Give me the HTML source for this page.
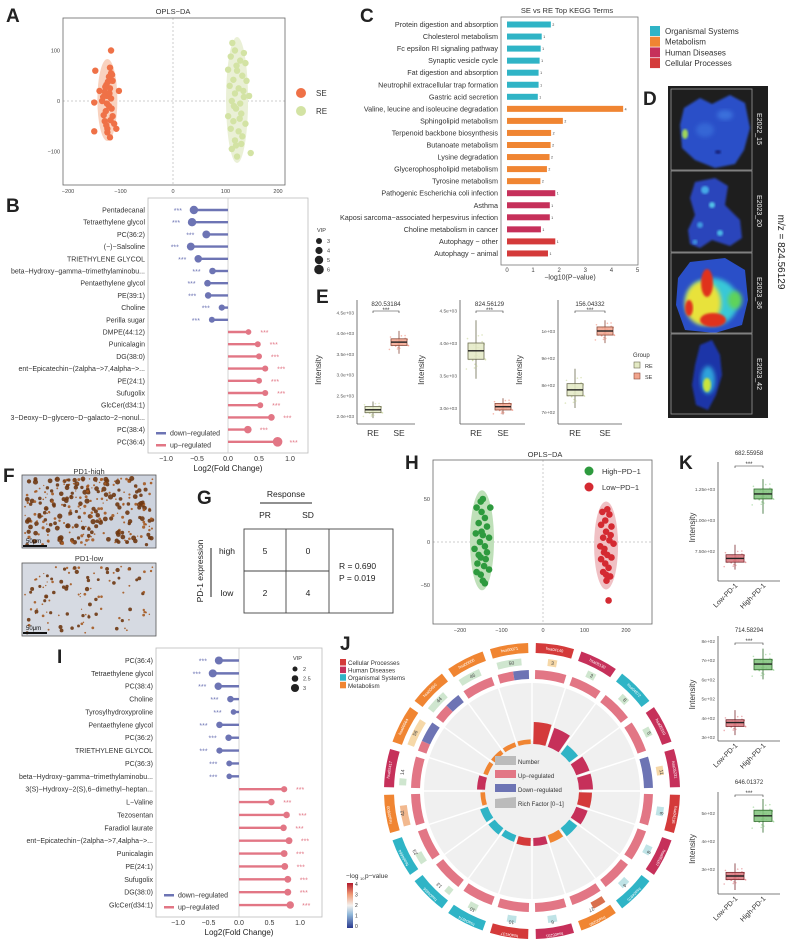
<!DOCTYPE html>
<html><head><meta charset="utf-8">
<style>
html,body{margin:0;padding:0;background:#fff;}
svg{display:block;font-family:"Liberation Sans",Arial,sans-serif;}
</style></head>
<body>
<svg id="fig" xmlns="http://www.w3.org/2000/svg" width="793" height="943" viewBox="0 0 793 943">
<defs>
<filter id="blur2" x="-20%" y="-20%" width="140%" height="140%"><feGaussianBlur stdDeviation="2.2"/></filter>
<filter id="blur1"><feGaussianBlur stdDeviation="1"/></filter>
<clipPath id="cd1"><rect x="671" y="89" width="81" height="81"/></clipPath>
<clipPath id="cd2"><rect x="671" y="171" width="81" height="81"/></clipPath>
<clipPath id="cd3"><rect x="671" y="253" width="81" height="80"/></clipPath>
<clipPath id="cd4"><rect x="671" y="334" width="81" height="80"/></clipPath>
<linearGradient id="cbar" x1="0" y1="1" x2="0" y2="0">
<stop offset="0" stop-color="#2b3a8f"/><stop offset="0.3" stop-color="#8fb7d9"/><stop offset="0.5" stop-color="#f4f1ee"/><stop offset="0.75" stop-color="#ef9a76"/><stop offset="1" stop-color="#b2182b"/>
</linearGradient>
</defs>
<g font-weight="bold" font-size="19" fill="#222">
<text x="6" y="22">A</text>
<text x="6" y="212">B</text>
<text x="360" y="22">C</text>
<text x="643" y="105">D</text>
<text x="316" y="303">E</text>
<text x="3" y="482">F</text>
<text x="197" y="504">G</text>
<text x="405" y="469">H</text>
<text x="57" y="663">I</text>
<text x="340" y="650">J</text>
<text x="679" y="469">K</text>
</g>
<text x="173" y="14" font-size="7.5" text-anchor="middle" fill="#333">OPLS−DA</text>
<text x="567" y="13" font-size="7.5" text-anchor="middle" fill="#333">SE vs RE Top KEGG Terms</text>
<text x="545" y="457" font-size="7.5" text-anchor="middle" fill="#333">OPLS−DA</text>

<!-- Panel D -->
<g>
<rect x="668" y="86" width="100" height="332" fill="#1e1e1e"/>
<g clip-path="url(#cd1)">
<path d="M684,108 L700,98 L712,104 L730,95 L745,103 L750,128 L744,150 L735,164 L715,168 L695,160 L682,148 L680,125 Z" fill="#2a4fc8" filter="url(#blur1)"/>
<ellipse cx="685" cy="134" rx="3" ry="5" fill="#9fd65a" filter="url(#blur1)"/>
<ellipse cx="725" cy="115" rx="8" ry="5" fill="#3b6fdc" filter="url(#blur2)"/>
<ellipse cx="705" cy="130" rx="9" ry="7" fill="#3566d5" filter="url(#blur2)"/>
<ellipse cx="718" cy="152" rx="3" ry="2" fill="#14247a" filter="url(#blur1)"/>
</g>
<g clip-path="url(#cd2)">
<path d="M695,182 L715,178 L728,186 L725,205 L740,220 L742,238 L730,246 L712,240 L700,248 L690,244 L688,230 L695,215 L690,198 Z" fill="#2a44bb" filter="url(#blur1)"/>
<circle cx="705" cy="190" r="4" fill="#45a8e6" filter="url(#blur1)"/>
<circle cx="712" cy="205" r="3" fill="#52c3e8" filter="url(#blur1)"/>
<circle cx="700" cy="225" r="3" fill="#3f9ae0" filter="url(#blur1)"/>
<circle cx="720" cy="233" r="3" fill="#4bb8e6" filter="url(#blur1)"/>
<circle cx="695" cy="242" r="2.5" fill="#3d8fdc" filter="url(#blur1)"/>
</g>
<g clip-path="url(#cd3)">
<path d="M690,262 L725,258 L745,270 L748,300 L742,325 L715,333 L685,330 L676,305 L678,278 Z" fill="#2a4fc8"/>
<ellipse cx="712" cy="302" rx="26" ry="24" fill="#37c8d8" filter="url(#blur2)"/>
<ellipse cx="703" cy="303" rx="18" ry="22" fill="#e8e23a" filter="url(#blur2)"/>
<ellipse cx="707" cy="283" rx="6" ry="14" fill="#e0301e" filter="url(#blur1)"/>
<ellipse cx="713" cy="320" rx="13" ry="7" fill="#e0301e" filter="url(#blur1)"/>
<ellipse cx="689" cy="308" rx="4" ry="8" fill="#e0301e" filter="url(#blur1)"/>
<ellipse cx="735" cy="300" rx="7" ry="9" fill="#5fd35a" filter="url(#blur2)"/>
</g>
<g clip-path="url(#cd4)">
<path d="M700,345 L712,340 L720,355 L722,375 L716,395 L708,410 L696,405 L692,385 L695,365 Z" fill="#1f35a8" filter="url(#blur1)"/>
<ellipse cx="708" cy="380" rx="7" ry="14" fill="#2fa3dc" filter="url(#blur2)"/>
<ellipse cx="707" cy="385" rx="4" ry="7" fill="#c8e43c" filter="url(#blur1)"/>
</g>
<g fill="none" stroke="#999" stroke-width="0.8">
<rect x="671" y="89" width="81" height="81"/><rect x="671" y="171" width="81" height="81"/><rect x="671" y="253" width="81" height="80"/><rect x="671" y="334" width="81" height="80"/>
</g>
<g fill="#eee" font-size="7" text-anchor="middle">
<text transform="translate(757,129) rotate(90)">E2022_15</text>
<text transform="translate(757,211) rotate(90)">E2023_20</text>
<text transform="translate(757,293) rotate(90)">E2023_36</text>
<text transform="translate(757,374) rotate(90)">E2023_42</text>
</g>
<text transform="translate(778,252) rotate(90)" font-size="10" text-anchor="middle" fill="#222">m/z = 824.56129</text>
</g>

<!-- Panel F -->
<g>
<text x="89" y="474" font-size="7.5" text-anchor="middle" fill="#333">PD1-high</text>
<rect x="22" y="475" width="134" height="73" fill="#cdd3de" stroke="#555" stroke-width="0.8"/>
<g id="fhigh"></g>
<text x="89" y="561" font-size="7.5" text-anchor="middle" fill="#333">PD1-low</text>
<rect x="22" y="563" width="134" height="73" fill="#d6dae2" stroke="#555" stroke-width="0.8"/>
<g id="flow"></g>
<text x="26" y="543" font-size="6" fill="#111">50μm</text>
<rect x="23" y="545" width="24" height="2" fill="#111"/>
<text x="26" y="630" font-size="6" fill="#111">50μm</text>
<rect x="23" y="632" width="24" height="2" fill="#111"/>
</g>

<!-- Panel G -->
<g fill="#222">
<text x="286" y="497" font-size="8.5" text-anchor="middle">Response</text>
<line x1="260" y1="503" x2="312" y2="503" stroke="#222" stroke-width="1"/>
<text x="265" y="518" font-size="8.5" text-anchor="middle">PR</text>
<text x="308" y="518" font-size="8.5" text-anchor="middle">SD</text>
<text transform="translate(203,571) rotate(-90)" font-size="8.5" text-anchor="middle">PD-1 expression</text>
<line x1="211" y1="548" x2="211" y2="597" stroke="#222" stroke-width="1"/>
<text x="227" y="554" font-size="8.5" text-anchor="middle">high</text>
<text x="227" y="596" font-size="8.5" text-anchor="middle">low</text>
<rect x="244" y="529" width="149" height="84" fill="none" stroke="#444" stroke-width="0.9"/>
<line x1="244" y1="571" x2="329" y2="571" stroke="#444" stroke-width="0.9"/>
<line x1="286" y1="529" x2="286" y2="613" stroke="#444" stroke-width="0.9"/>
<line x1="329" y1="529" x2="329" y2="613" stroke="#444" stroke-width="0.9"/>
<text x="265" y="554" font-size="8.5" text-anchor="middle">5</text>
<text x="308" y="554" font-size="8.5" text-anchor="middle">0</text>
<text x="265" y="596" font-size="8.5" text-anchor="middle">2</text>
<text x="308" y="596" font-size="8.5" text-anchor="middle">4</text>
<text x="339" y="569" font-size="8.5">R = 0.690</text>
<text x="339" y="581" font-size="8.5">P = 0.019</text>
</g>
</svg>
<script>
// ---------- DATA ----------
const aSEx=[-118,-148,-103,-150,-150,-120,-125,-130,-115,-128,-122,-135,-118,-125,-130,-120,-127,-115,-122,-118,-120,-125,-108,-140,-112,-132,-117,-126,-121,-129,-119,-124,-133,-116,-127];
const aSEy=[100,60,20,-3,-60,-72,-55,-40,-30,-20,-10,0,5,10,18,25,32,40,48,55,66,-62,-55,20,-45,-28,-15,-5,15,28,-38,38,8,52,-48];
const aREx=[113,118,135,110,128,138,105,122,132,115,140,108,125,118,135,145,112,128,120,105,130,115,138,110,125,132,118,130,112,122,148,120,127,116,134,121];
const aREy=[115,100,95,88,80,75,62,60,50,42,40,30,25,15,8,10,0,-5,-15,-30,-25,-40,-45,-55,-60,-70,-78,-85,-95,-110,-103,-88,-35,-10,20,70];
const hHiX=[-145,-150,-160,-127,-148,-140,-155,-135,-162,-145,-130,-152,-140,-165,-135,-150,-158,-142,-130,-150,-145,-140,-155,-148,-138,-160];
const hHiY=[50,47,40,40,35,28,22,18,10,8,5,0,-5,-8,-12,-18,-25,-28,-32,-38,-45,-48,-15,12,-20,-35];
const hLoX=[155,143,160,150,140,165,152,145,160,170,148,155,140,165,150,158,145,162,153,158,147,163,138,152];
const hLoY=[38,35,32,25,20,18,12,5,2,-2,-8,-15,-20,-18,-25,-30,-35,-40,-45,-68,-12,8,-5,-38];

const bNames=["Pentadecanal","Tetraethylene glycol","PC(36:2)","(−)−Salsoline","TRIETHYLENE GLYCOL","beta−Hydroxy−gamma−trimethylaminobu...","Pentaethylene glycol","PE(39:1)","Choline","Perilla sugar","DMPE(44:12)","Punicalagin","DG(38:0)","ent−Epicatechin−(2alpha−>7,4alpha−>...","PE(24:1)","Sufugolix","GlcCer(d34:1)","3−Deoxy−D−glycero−D−galacto−2−nonul...","PC(38:4)","PC(36:4)"];
const bFC=[-0.55,-0.58,-0.35,-0.6,-0.48,-0.25,-0.33,-0.32,-0.1,-0.26,0.33,0.48,0.5,0.6,0.5,0.6,0.52,0.7,0.32,0.8];
const bVIP=[5,5,4.6,4.6,4.3,3.5,3.6,3.5,3.2,3,2.8,3,3,3.1,3,3.1,3,3.6,4.3,6];

const cTerms=["Protein digestion and absorption","Cholesterol metabolism","Fc epsilon RI signaling pathway","Synaptic vesicle cycle","Fat digestion and absorption","Neutrophil extracellular trap formation","Gastric acid secretion","Valine, leucine and isoleucine degradation","Sphingolipid metabolism","Terpenoid backbone biosynthesis","Butanoate metabolism","Lysine degradation","Glycerophospholipid metabolism","Tyrosine metabolism","Pathogenic Escherichia coli infection","Asthma","Kaposi sarcoma−associated herpesvirus infection","Choline metabolism in cancer","Autophagy − other","Autophagy − animal"];
const cVals=[1.68,1.33,1.29,1.25,1.21,1.21,1.18,4.45,2.14,1.69,1.67,1.63,1.53,1.28,1.85,1.64,1.64,1.3,1.85,1.57];
const cCounts=[2,1,1,1,1,1,1,4,2,2,2,2,2,2,1,1,1,1,1,1];
const cCat=[0,0,0,0,0,0,0,1,1,1,1,1,1,1,2,2,2,2,3,3];
const catNames=["Organismal Systems","Metabolism","Human Diseases","Cellular Processes"];
const cTicks=[0,1,2,3,4,5];

const eTitles=["820.53184","824.56129","156.04332"];
const eRE=[[1.95,2.08,2.15,2.23,2.35],[3.45,3.75,3.88,4.0,4.35],[715,760,782,805,860]];
const eSE=[[3.5,3.70,3.78,3.86,4.05],[2.9,2.97,3.02,3.07,3.15],[955,985,1000,1015,1040]];
const eTickVals=[[2.0,2.5,3.0,3.5,4.0,4.5],[3.0,3.5,4.0,4.5],[700,800,900,1000]];
const eTickLabels=[["2.0e+03","2.5e+03","3.0e+03","3.5e+03","4.0e+03","4.5e+03"],["3.0e+03","3.5e+03","4.0e+03","4.5e+03"],["7e+02","8e+02","9e+02","1e+03"]];

const iNames=["PC(36:4)","Tetraethylene glycol","PC(38:4)","Choline","Tyrosylhydroxyproline","Pentaethylene glycol","PC(36:2)","TRIETHYLENE GLYCOL","PC(36:3)","beta−Hydroxy−gamma−trimethylaminobu...","3(S)−Hydroxy−2(S),6−dimethyl−heptan...","L−Valine","Tezosentan","Faradiol laurate","ent−Epicatechin−(2alpha−>7,4alpha−>...","Punicalagin","PE(24:1)","Sufugolix","DG(38:0)","GlcCer(d34:1)"];
const iFC=[-0.33,-0.43,-0.34,-0.14,-0.09,-0.32,-0.17,-0.32,-0.16,-0.16,0.74,0.53,0.78,0.73,0.82,0.74,0.75,0.8,0.8,0.84];
const iVIP=[3.0,3.0,2.8,2.5,2.2,2.5,2.5,2.4,2.3,2.2,2.4,2.5,2.5,2.5,2.6,2.6,2.6,2.6,2.6,2.8];

const jCat=[3,2,0,2,2,3,2,0,1,2,3,0,0,0,1,2,1,1,1,1];
const jIds=["hsa04140","hsa05130","hsa04972","hsa05310","hsa05231","hsa04136","hsa05167","hsa04975","hsa00280","hsa05231","hsa04137","hsa04974","hsa04666","hsa04664","hsa00900","hsa05417","hsa00564","hsa00650","hsa00600","hsa00071"];
const jNumber=[3,3,8,5,11,8,8,4,27,6,10,10,13,23,42,14,56,44,46,50];
const jLogP=[2.0,1.8,1.5,1.6,2.2,1.4,1.4,1.2,3.6,1.3,1.3,1.5,1.6,1.7,2.8,1.6,2.4,1.9,1.7,1.9];
const jUp=[1,1,1,1,0,1,1,1,3,1,1,1,1,1,1,1,1,1,2,1];
const jDown=[0,0,0,0,2,0,0,0,0,0,0,0,0,0,0,0,2,1,0,1];
const jRich=[0.95,0.85,0.4,0.55,0.55,0.5,0.45,0.35,0.25,0.25,0.25,0.2,0.25,0.25,0.08,0.25,0.08,0.08,0.08,0.08];

const kTitles=["682.55958","714.58294","646.01372"];
const kLow=[[600,660,690,720,800],[310,355,375,390,440],[225,262,275,288,320]];
const kHigh=[[1050,1170,1210,1250,1330],[600,650,680,705,760],[430,470,490,510,550]];
const kTickVals=[[750,1000,1250],[300,400,500,600,700,800],[300,400,500]];
const kTickLabels=[["7.50e+02","1.00e+03","1.25e+03"],["3e+02","4e+02","5e+02","6e+02","7e+02","8e+02"],["3e+02","4e+02","5e+02"]];

// ---------- HELPERS ----------
const NS='http://www.w3.org/2000/svg';
const svg=document.getElementById('fig');
function mk(tag,attrs,parent){const e=document.createElementNS(NS,tag);for(const k in attrs)e.setAttribute(k,attrs[k]);(parent||svg).appendChild(e);return e;}
function tx(x,y,s,attrs,parent){const t=mk('text',Object.assign({x:x,y:y},attrs||{}),parent);t.textContent=s;return t;}
const catColors=["#2fb4c6","#f08532","#c6305a","#d43a3a"];
const downC="#6d74b4", upC="#e27685";

// ---------- PANEL A ----------
(function(){
 const xA=v=>173+v*0.525, yA=v=>101-v*0.505;
 const g=mk('g',{});
 
 
 mk('line',{x1:xA(0),y1:18,x2:xA(0),y2:185,stroke:'#ccc','stroke-dasharray':'2,2'},g);
 mk('line',{x1:63,y1:yA(0),x2:285,y2:yA(0),stroke:'#ccc','stroke-dasharray':'2,2'},g);
 const e1=mk('ellipse',{cx:xA(-125),cy:yA(2),rx:10,ry:41,fill:'#f9d2bf'},g);
 
 
 const e2=mk('ellipse',{cx:xA(122),cy:yA(2),rx:11,ry:63,fill:'#eaf0d6'},g);
 
 
 aSEx.forEach((v,i)=>{const c=mk('circle',{cx:xA(v),cy:yA(aSEy[i]),r:3.2,fill:'#ef7147'},g);
  
  });
 aREx.forEach((v,i)=>{const c=mk('circle',{cx:xA(v),cy:yA(aREy[i]),r:3.2,fill:'#d3e3a4'},g);
  
  });
 mk('rect',{x:63,y:18,width:222,height:167,fill:'none',stroke:'#666','stroke-width':0.8},g);
 [-200,-100,0,100,200].forEach(v=>{const t=tx(xA(v),193,String(v).replace('-','−'),{'font-size':5.5,'text-anchor':'middle',fill:'#444'},g);
  
  });
 [100,0,-100].forEach(v=>{const t=tx(60,yA(v)+2,String(v).replace('-','−'),{'font-size':5.5,'text-anchor':'end',fill:'#444'},g);
  
  });
 const l1=mk('circle',{cx:301,cy:93,r:5,fill:'#ef7147'},g);
 
 
 const l2=mk('circle',{cx:301,cy:111,r:5,fill:'#d3e3a4'},g);
 
 
 const t1=tx(316,96,'SE',{'font-size':8,fill:'#333'},g);
 
 
 const t2=tx(316,114,'RE',{'font-size':8,fill:'#333'},g);
 
 
})();

// ---------- LOLLIPOP (B & I) ----------
function lollipop(o){
 const g=mk('g',{});
 
 
 const xs=v=>o.x0+v*o.k, ys=i=>o.y0+i*o.step;
 mk('rect',{x:o.bx,y:o.by,width:o.bw,height:o.bh,fill:'#fff',stroke:'#bbb','stroke-width':0.8},g);
 mk('line',{x1:xs(0),y1:o.by,x2:xs(0),y2:o.by+o.bh,stroke:'#ccc','stroke-width':0.8},g);
 o.names.forEach((n,i)=>{
  const v=o.fc[i], c=v<0?downC:upC;
  const t=tx(o.bx-3,ys(i)+2.5,n,{'font-size':7,'text-anchor':'end',fill:'#333'},g);
  
  
  const ln=mk('line',{x1:xs(0),y1:ys(i),x2:xs(v),y2:ys(i),stroke:c,'stroke-width':2.4},g);
  
  
  const d=mk('circle',{cx:xs(v),cy:ys(i),r:o.rs(o.vip[i]),fill:c},g);
  
  
  const s=tx(xs(v)+(v<0?-16:16),ys(i)+3,'***',{'font-size':7,'text-anchor':'middle',fill:c},g);
  
  
 });
 [-1,-0.5,0,0.5,1].forEach(v=>{
  const t=tx(xs(v),o.by+o.bh+8,v.toFixed(1).replace('-','−'),{'font-size':7,'text-anchor':'middle',fill:'#333'},g);
  
  
 });
 const xt=tx(xs(0),o.by+o.bh+18,'Log2(Fold Change)',{'font-size':8,'text-anchor':'middle',fill:'#222'},g);
 
 
 mk('rect',{x:o.bx+8,y:o.ly-1,width:10,height:2.5,fill:downC},g);
 mk('rect',{x:o.bx+8,y:o.ly+11,width:10,height:2.5,fill:upC},g);
 const ld=tx(o.bx+22,o.ly+2.5,'down−regulated',{'font-size':7,fill:'#333'},g);
 
 
 const lu=tx(o.bx+22,o.ly+14.5,'up−regulated',{'font-size':7,fill:'#333'},g);
 
 
 const vt=tx(o.vx,o.vy,'VIP',{'font-size':5.5,fill:'#333'},g);
 
 
 o.vipLeg.forEach((v,j)=>{
  const c=mk('circle',{cx:o.vx+2,cy:o.vy+9+j*o.vstep,r:o.rs(v),fill:'#222'},g);
  
  
  const t=tx(o.vx+10,o.vy+11+j*o.vstep,String(v),{'font-size':5.5,fill:'#444'},g);
  
  
 });
}
lollipop({name:'panel-b-lollipop',names:bNames,fc:bFC,vip:bVIP,x0:228,k:62,y0:210,step:12.2,bx:148,by:198,bw:160,bh:255,ly:433,
 rs:v=>1.2+v*0.6,vx:317,vy:232,vipLeg:[3,4,5,6],vstep:9.5});
lollipop({name:'panel-i-lollipop',names:iNames,fc:iFC,vip:iVIP,x0:239,k:61,y0:660.5,step:12.87,bx:156,by:648,bw:166,bh:269,ly:895,
 rs:v=>v*1.55-0.6,vx:293,vy:660,vipLeg:["2.0","2.5","3.0"].map(Number),vstep:9.5});

// ---------- PANEL C ----------
(function(){
 const g=mk('g',{});
 
 
 const xs=v=>507+v*26.1, ys=i=>24.5+i*12.05;
 mk('rect',{x:501,y:17,width:137,height:248,fill:'#fff',stroke:'#777','stroke-width':0.8},g);
 cTerms.forEach((n,i)=>{
  const t=tx(498,ys(i)+2.5,n,{'font-size':7.2,'text-anchor':'end',fill:'#333'},g);
  
  
  const b=mk('rect',{x:xs(0),y:ys(i)-3,width:xs(cVals[i])-xs(0),height:6,fill:catColors[cCat[i]]},g);
  
  
  const c=tx(xs(cVals[i])+1.5,ys(i)+1.5,String(cCounts[i]),{'font-size':3.5,fill:'#333'},g);
  
  
 });
 cTicks.forEach(v=>{
  const t=tx(xs(v),272,String(v),{'font-size':6,'text-anchor':'middle',fill:'#444'},g);
  
  
 });
 const xt=tx(570,279.5,'−log10(P−value)',{'font-size':7,'text-anchor':'middle',fill:'#333'},g);
 
 
 catNames.forEach((n,j)=>{
  const r=mk('rect',{x:650,y:26+j*10.7,width:10,height:10,fill:catColors[j]},g);
  
  
  const t=tx(665,34+j*10.7,n,{'font-size':8,fill:'#333'},g);
  
  
 });
})();

// ---------- BOX PLOTS ----------
function boxAt(g,cx,st,ys,fill,stroke,w,dot){
 const wl=mk('line',{x1:cx,y1:ys(st[0]),x2:cx,y2:ys(st[4]),stroke:stroke,'stroke-width':0.8},g);
 
 
 // jitter decoration
 for(let k=0;k<26;k++){
  const a=Math.sin(k*12.9898)*43758.5453, fr=a-Math.floor(a);
  const b2=Math.sin(k*78.233)*12345.678, fr2=b2-Math.floor(b2);
  const v=st[1]+(st[3]-st[1])*(fr2*2.2-0.6);
  mk('circle',{cx:cx+(fr-0.5)*w*1.2,cy:ys(v),r:0.8,fill:dot,opacity:0.6},g);
 }
 const r=mk('rect',{x:cx-w/2,y:ys(st[3]),width:w,height:ys(st[1])-ys(st[3]),fill:fill,stroke:stroke,'stroke-width':0.8,'fill-opacity':0.85},g);
 
 
 const m=mk('line',{x1:cx-w/2,y1:ys(st[2]),x2:cx+w/2,y2:ys(st[2]),stroke:'#222','stroke-width':1.4},g);
 
 
}
// Panel E
(function(){
 const P=[{l:357,r:415,re:373,se:399,yref:[4.0,333,2.0,416]},{l:460,r:525,re:476,se:503,yref:[4.0,343,3.0,408]},{l:558,r:622,re:575,se:605,yref:[1000,331,700,412]}];
 P.forEach((p,i)=>{
  const g=mk('g',{});
  
  
  const [v1,p1,v2,p2]=p.yref; const ys=v=>p1+(v-v1)*(p2-p1)/(v2-v1);
  mk('line',{x1:p.l,y1:300,x2:p.l,y2:424,stroke:'#555','stroke-width':0.8},g);
  mk('line',{x1:p.l,y1:424,x2:p.r,y2:424,stroke:'#555','stroke-width':0.8},g);
  boxAt(g,p.re,eRE[i],ys,'#e3e9c4','#6b6b50',16,'#c9d79a');
  boxAt(g,p.se,eSE[i],ys,'#f2a58e','#8a4a3a',16,'#f08b78');
  eTickVals[i].forEach((v,j)=>{
   const t=tx(p.l-3,ys(v)+2,eTickLabels[i][j],{'font-size':4.8,'text-anchor':'end',fill:'#555'},g);
   
   
  });
  const a=tx(p.re,436,'RE',{'font-size':8.5,'text-anchor':'middle',fill:'#333'},g);
  
  
  const b=tx(p.se,436,'SE',{'font-size':8.5,'text-anchor':'middle',fill:'#333'},g);
  
  
  const t=tx((p.re+p.se)/2,306,eTitles[i],{'font-size':6.2,'text-anchor':'middle',fill:'#333'},g);
  
  
  mk('path',{d:`M${p.re},313 V311 H${p.se} V313`,fill:'none',stroke:'#333','stroke-width':0.6},g);
  const s=tx((p.re+p.se)/2,312,'***',{'font-size':6,'text-anchor':'middle',fill:'#333'},g);
  
  
  const yl=tx(0,0,'Intensity',{'font-size':8,'text-anchor':'middle',fill:'#333',transform:`translate(${p.l-36},370) rotate(-90)`},g);
  
  
 });
 const g=mk('g',{});
 
 
 tx(633,357,'Group',{'font-size':6,fill:'#333'},g);
 mk('rect',{x:634,y:362,width:6,height:6,fill:'#e3e9c4',stroke:'#6b6b50','stroke-width':0.6},g);
 mk('rect',{x:634,y:373,width:6,height:6,fill:'#f2a58e',stroke:'#8a4a3a','stroke-width':0.6},g);
 tx(645,368,'RE',{'font-size':5.5,fill:'#333'},g);
 tx(645,379,'SE',{'font-size':5.5,fill:'#333'},g);
})();

// Panel K
(function(){
 const P=[{top:462,bot:581,yref:[1250,489,1000,520],ty:455},{top:636,bot:741,yref:[800,641,300,737],ty:632},{top:792,bot:894,yref:[500,813,300,869],ty:784}];
 P.forEach((p,i)=>{
  const g=mk('g',{});
  
  
  const [v1,p1,v2,p2]=p.yref; const ys=v=>p1+(v-v1)*(p2-p1)/(v2-v1);
  const l=718,r=780,lo=735,hi=763;
  mk('line',{x1:l,y1:p.top,x2:l,y2:p.bot,stroke:'#555','stroke-width':0.8},g);
  mk('line',{x1:l,y1:p.bot,x2:r,y2:p.bot,stroke:'#555','stroke-width':0.8},g);
  boxAt(g,lo,kLow[i],ys,'#d9737a','#7a2a30',18,'#e07a80');
  boxAt(g,hi,kHigh[i],ys,'#7fc27a','#2e6a2a',18,'#8fd08a');
  kTickVals[i].forEach((v,j)=>{
   const t=tx(l-3,ys(v)+2,kTickLabels[i][j],{'font-size':4.8,'text-anchor':'end',fill:'#555'},g);
   
   
  });
  const a=tx(0,0,'Low-PD-1',{'font-size':7,'text-anchor':'end',fill:'#333',transform:`translate(${lo+3},${p.bot+5}) rotate(-45)`},g);
  
  
  const b=tx(0,0,'High-PD-1',{'font-size':7,'text-anchor':'end',fill:'#333',transform:`translate(${hi+3},${p.bot+5}) rotate(-45)`},g);
  
  
  const t=tx(749,p.ty,kTitles[i],{'font-size':6,'text-anchor':'middle',fill:'#333'},g);
  
  
  mk('path',{d:`M${lo},${p.ty+13} V${p.ty+11} H${hi} V${p.ty+13}`,fill:'none',stroke:'#333','stroke-width':0.6},g);
  const s=tx((lo+hi)/2,p.ty+11,'***',{'font-size':6,'text-anchor':'middle',fill:'#333'},g);
  
  
  const yl=tx(0,0,'Intensity',{'font-size':8,'text-anchor':'middle',fill:'#333',transform:`translate(695,${(p.top+p.bot)/2+6}) rotate(-90)`},g);
  
  
 });
})();

// ---------- PANEL H ----------
(function(){
 const xs=v=>543+v*0.415, ys=v=>542-v*0.86;
 const g=mk('g',{});
 
 
 mk('line',{x1:xs(0),y1:460,x2:xs(0),y2:624,stroke:'#ccc','stroke-dasharray':'2,2'},g);
 mk('line',{x1:433,y1:ys(0),x2:652,y2:ys(0),stroke:'#ccc','stroke-dasharray':'2,2'},g);
 const e1=mk('ellipse',{cx:xs(-147),cy:ys(2),rx:12,ry:50,fill:'#bfe0b9'},g);
 
 
 const e2=mk('ellipse',{cx:xs(152),cy:ys(-4),rx:12,ry:44,fill:'#f0c0c4'},g);
 
 
 hHiX.forEach((v,i)=>{const c=mk('circle',{cx:xs(v),cy:ys(hHiY[i]),r:3.3,fill:'#2e9a3e'},g);
  
  });
 hLoX.forEach((v,i)=>{const c=mk('circle',{cx:xs(v),cy:ys(hLoY[i]),r:3.3,fill:'#d42a32'},g);
  
  });
 mk('rect',{x:433,y:460,width:219,height:164,fill:'none',stroke:'#666','stroke-width':0.8},g);
 [-200,-100,0,100,200].forEach(v=>{const t=tx(xs(v),632,String(v).replace('-','−'),{'font-size':5.5,'text-anchor':'middle',fill:'#444'},g);
  
  });
 [50,0,-50].forEach(v=>{const t=tx(430,ys(v)+2,String(v).replace('-','−'),{'font-size':5.5,'text-anchor':'end',fill:'#444'},g);
  
  });
 const a=mk('circle',{cx:589,cy:471,r:4.5,fill:'#2e9a3e'},g);
 
 
 const b=mk('circle',{cx:589,cy:487,r:4.5,fill:'#d42a32'},g);
 
 
 const t1=tx(602,474,'High−PD−1',{'font-size':7.5,fill:'#333'},g);
 
 
 const t2=tx(602,490,'Low−PD−1',{'font-size':7.5,fill:'#333'},g);
 
 
})();

// ---------- PANEL J ----------
(function(){
 const cx=532, cy=791, N=jCat.length, span=360/N;
 const g=mk('g',{});
 
 
 const pt=(r,a)=>{const t=(a-90)*Math.PI/180;return [cx+r*Math.cos(t),cy+r*Math.sin(t)];};
 function arc(r1,r2,a1,a2){
  const [x1,y1]=pt(r2,a1),[x2,y2]=pt(r2,a2),[x3,y3]=pt(r1,a2),[x4,y4]=pt(r1,a1);
  const lg=(a2-a1)>180?1:0;
  return `M${x1},${y1} A${r2},${r2} 0 ${lg} 1 ${x2},${y2} L${x3},${y3} A${r1},${r1} 0 ${lg} 0 ${x4},${y4} Z`;
 }
 const bg=mk('circle',{cx:cx,cy:cy,r:108,fill:'#f0f0f0'},g);
 
 
 const lightMap=v=>v<1.5?'#bfe3e6':v<2?'#cfe6cf':v<2.6?'#f6d8a8':v<3?'#f2b98f':'#d9704e';
 for(let i=0;i<N;i++){
  const a1=i*span+1.5, a2=(i+1)*span-1.5;
  const [lx1,ly1]=pt(50,i*span),[lx2,ly2]=pt(109,i*span);
  mk('line',{x1:lx1,y1:ly1,x2:lx2,y2:ly2,stroke:'#fff','stroke-width':1.5},g);
  const o=mk('path',{d:arc(138,148,a1,a2),fill:catColors[jCat[i]]},g);
  
  
  const [tx0,ty0]=pt(143,(a1+a2)/2);
  const lab=tx(0,0,jIds[i],{'font-size':4,'text-anchor':'middle',fill:'#fff',transform:`translate(${tx0},${ty0+1.3}) rotate(${(a1+a2)/2})`},g);
  
  
  const frac=Math.min(1,jNumber[i]/60);
  if(jNumber[i]>=12){
   const nb=mk('path',{d:arc(126,133,a1+1,a1+1+(a2-a1-2)*frac),fill:lightMap(jLogP[i])},g);
   
   
  } else {
   const nb=mk('path',{d:arc(126,133,(a1+a2)/2-2,(a1+a2)/2+2),fill:lightMap(jLogP[i])},g);
   
   
  }
  const [nx,ny]=pt(129.5,(a1+a2)/2);
  const nt=tx(0,0,String(jNumber[i]),{'font-size':5,'text-anchor':'middle',fill:'#444',transform:`translate(${nx},${ny+1.7}) rotate(${(a1+a2)/2})`},g);
  
  
  const tot=jUp[i]+jDown[i], mid=a1+(a2-a1)*jUp[i]/tot;
  if(jUp[i]>0){const u=mk('path',{d:arc(112,121,a1,mid),fill:upC},g);
   
   }
  if(jDown[i]>0){const d=mk('path',{d:arc(112,121,mid,a2),fill:downC},g);
   
   }
  const rb=mk('path',{d:arc(47,50+jRich[i]*20,a1,a2),fill:catColors[jCat[i]]},g);
  
  
 }
 const lg=mk('g',{},g);
 
 
 mk('path',{d:'M495,756 H516 V765 H495 Z',fill:'#bbb'},lg);
 mk('rect',{x:495,y:770,width:21,height:8,fill:upC},lg);
 mk('rect',{x:495,y:784,width:21,height:8,fill:downC},lg);
 mk('path',{d:'M495,799 L516,797 V808 H495 Z',fill:'#bbb'},lg);
 [['Number',764],['Up−regulated',778],['Down−regulated',792],['Rich Factor [0−1]',806]].forEach(([s,y])=>{
  const t=tx(518,y,s,{'font-size':6,fill:'#333'},lg);
  
  
 });
 const cl=mk('g',{});
 
 
 ['Cellular Processes','Human Diseases','Organismal Systems','Metabolism'].forEach((s,j)=>{
  mk('rect',{x:340,y:659+j*7.6,width:6,height:6.5,fill:catColors[[3,2,0,1][j]]},cl);
  const t=tx(348,665+j*7.6,s,{'font-size':6.2,fill:'#333'},cl);
  
  
 });
 const cb=mk('g',{});
 
 
 tx(346,878,'−log',{'font-size':6.5,fill:'#333'},cb);
 tx(360,880,'10',{'font-size':4,fill:'#333'},cb);
 tx(365,878,'p−value',{'font-size':6.5,fill:'#333'},cb);
 mk('rect',{x:347,y:883,width:6,height:45,fill:'url(#cbar)'},cb);
 [4,3,2,1,0].forEach((v,j)=>{tx(355,886+j*10.5,String(v),{'font-size':5,fill:'#333'},cb);});
})();

// ---------- PANEL F decoration (IHC texture) ----------
(function(){
 function dots(gid,x,y,w,h,n,seed,dens){
  const g=document.getElementById(gid);
  for(let k=0;k<n;k++){
   const a=Math.sin((k+seed)*12.9898)*43758.5453, fa=a-Math.floor(a);
   const b=Math.sin((k+seed)*78.233)*24634.634, fb=b-Math.floor(b);
   const c=Math.sin((k+seed)*39.425)*11111.11, fc=c-Math.floor(c);
   const px=x+3+fa*(w-6), py=y+3+fb*(h-6);
   mk('circle',{cx:px,cy:py,r:0.6+fc*dens,fill:fc>0.5?'#6e3712':'#a55a22',opacity:0.9},g);
  }
 }
 dots('fhigh',22,475,134,73,300,3,2.0);
 dots('flow',22,563,134,73,110,7,1.6);
})();
</script>
</body></html>
